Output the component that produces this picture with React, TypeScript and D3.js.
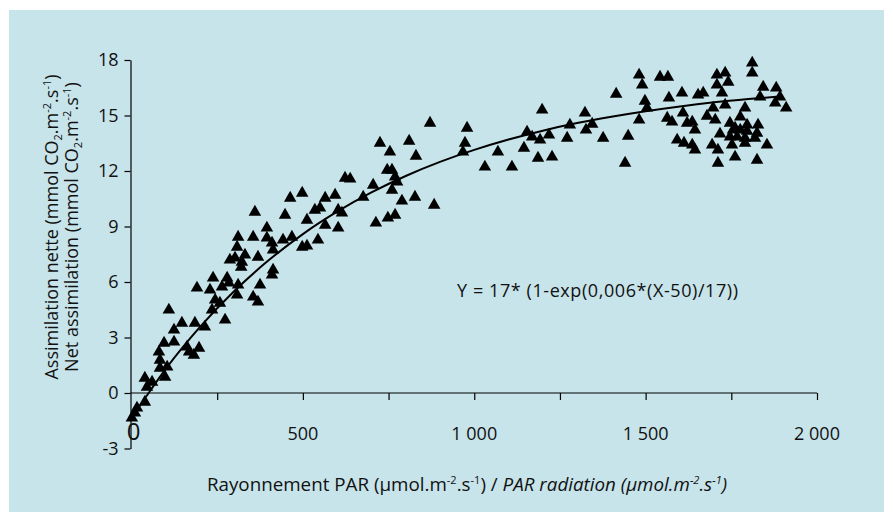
import React, { useEffect, useRef } from 'react';
import * as d3 from 'd3';

// PAR radiation (µmol.m-2.s-1) and net assimilation
const parValues = [
  10, 1, 16, 39, 39, 60, 45, 98, 104, 83, 83, 80, 95, 124, 124, 147, 109, 168, 182, 197,
  162, 185, 214, 191, 235, 229, 244, 273, 264, 284, 308, 311, 308, 302, 322, 331, 287, 279, 311, 355,
  360, 369, 375, 355, 369, 395, 395, 410, 413, 410, 413, 448, 442, 468, 463, 498, 512, 498, 512, 535,
  550, 565, 565, 544, 594, 603, 614, 603, 623, 638, 238, 258, 320, 725, 754, 810, 830, 746, 760, 769,
  775, 705, 760, 676, 789, 827, 883, 769, 748, 713, 871, 979, 973, 967, 1069, 1031, 1110, 1154, 1169, 1145,
  1192, 1186, 1218, 1227, 1198, 1279, 1271, 1323, 1326, 1344, 1376, 1414, 1449, 1440, 1481, 1481, 1490, 1498, 1504, 1542,
  1565, 1568, 1606, 1653, 1668, 1563, 1577, 1609, 1621, 1636, 1644, 1592, 1636, 1644, 1679, 1697, 1708, 1732, 1741, 1708,
  1723, 1732, 1703, 1717, 1694, 1711, 1711, 1761, 1746, 1755, 1767, 1752, 1776, 1790, 1796, 1790, 1811, 1811, 1843, 1834,
  1828, 1825, 1854, 1825, 1881, 1892, 1878, 1910, 1796, 1776, 1746, 1761, 1790, 1819, 1612,
];
const assimValues = [
  -1.08, -1.35, -0.81, -0.49, 0.81, 0.59, 0.32, 0.86, 1.41, 1.35, 1.78, 2.22, 2.7, 2.76, 3.41, 3.78, 4.49, 2.22, 2.05, 2.43,
  2.49, 3.78, 3.57, 5.68, 4.49, 5.57, 5.03, 3.95, 5.73, 5.95, 5.3, 8.43, 7.89, 7.3, 7.08, 7.46, 7.19, 6.22, 5.84, 8.43,
  9.78, 7.35, 5.84, 5.19, 4.92, 8.92, 8.38, 8.11, 7.73, 6.38, 6.65, 9.62, 8.27, 8.43, 10.54, 10.81, 9.35, 7.89, 7.95, 9.89,
  10.0, 10.54, 9.08, 8.27, 10.7, 9.89, 9.73, 8.92, 11.62, 11.57, 6.22, 4.86, 6.81, 13.51, 13.03, 13.62, 12.81, 12.05, 12.05, 11.68,
  11.41, 11.24, 10.97, 10.59, 10.38, 10.59, 10.16, 9.62, 9.46, 9.19, 14.59, 14.32, 13.51, 13.03, 13.03, 12.22, 12.22, 14.11, 13.84, 13.24,
  13.68, 12.7, 13.95, 12.76, 15.3, 14.49, 13.78, 15.14, 14.22, 14.54, 13.78, 16.16, 13.89, 12.43, 14.76, 17.19, 16.65, 15.78, 15.41, 17.08,
  17.08, 15.95, 16.22, 16.11, 16.22, 14.86, 14.65, 15.14, 14.59, 14.65, 14.22, 13.68, 13.41, 13.14, 14.97, 15.41, 17.19, 17.3, 16.81, 16.65,
  16.22, 15.57, 14.76, 14.0, 13.41, 13.14, 12.43, 12.76, 14.59, 14.22, 13.84, 13.41, 14.92, 15.41, 14.49, 13.51, 17.84, 17.3, 16.54, 16.0,
  14.49, 14.05, 13.41, 12.59, 16.49, 16.0, 15.68, 15.41, 14.16, 14.22, 13.84, 14.32, 13.78, 13.78, 13.51,
];

// fitted curve
const fitPar = [0, 50, 100, 200, 300, 400, 500, 600, 700, 800, 900, 1000, 1100, 1200, 1300, 1400, 1500, 1600, 1700, 1800, 1890];
const fitAssim = [-1.35, 0, 1.3, 3.57, 5.51, 7.17, 8.59, 9.8, 10.84, 11.73, 12.49, 13.14, 13.7, 14.18, 14.59, 14.93, 15.23, 15.49, 15.71, 15.89, 16.03];

const xTicks = [250, 500, 750, 1000, 1250, 1500, 1750, 2000];
const xLabelTicks = [500, 1000, 1500, 2000];
const yTicks = [-3, 0, 3, 6, 9, 12, 15, 18];

const W = 893;
const H = 522;
const FONT = '"Open Sans", "Noto Sans", sans-serif';
const FS = '18px';
const SUP = '11px';

const App = () => {
  const svgRef = useRef(null);

  useEffect(() => {
    const svg = d3.select(svgRef.current);
    svg.selectAll('*').remove();

    const x = d3.scaleLinear().domain([0, 2000]).range([131.5, 817]);
    const y = d3.scaleLinear().domain([-3, 18]).range([448.5, 60]);

    // panel
    svg.append('rect')
      .attr('x', 9).attr('y', 10)
      .attr('width', W - 18).attr('height', H - 20)
      .attr('fill', '#c7e4ea');

    // Y axis
    const yAxis = svg.append('g')
      .attr('transform', `translate(${x(0) - 1},0)`)
      .call(d3.axisLeft(y).tickValues(yTicks).tickSize(6).tickPadding(6).tickSizeOuter(0).tickFormat(d => String(d)));
    yAxis.select('.domain').attr('stroke', '#000').attr('stroke-width', 1.2);
    yAxis.selectAll('line').attr('stroke', '#000').attr('stroke-width', 1.2);
    yAxis.selectAll('text')
      .style('font-family', FONT).style('font-size', FS).attr('fill', '#111');

    // X axis at Y = 0
    const xAxis = svg.append('g')
      .attr('transform', `translate(0,${y(0)})`)
      .call(d3.axisBottom(x).tickValues(xTicks).tickSize(7).tickSizeOuter(0).tickFormat(() => ''));
    xAxis.select('.domain').attr('stroke', '#000').attr('stroke-width', 1.2)
      .attr('d', `M${x(0) - 1},0H${x(2000)}`);
    xAxis.selectAll('line').attr('stroke', '#000').attr('stroke-width', 1.2);

    const fmt = (v) => d3.format(',')(v).replace(/,/g, ' ');
    svg.append('g')
      .selectAll('text')
      .data(xLabelTicks)
      .join('text')
        .attr('x', d => x(d))
        .attr('y', 440)
        .attr('text-anchor', 'middle')
        .style('font-family', FONT).style('font-size', FS)
        .attr('fill', '#111')
        .text(d => fmt(d));

    // big origin zero
    svg.append('text')
      .attr('x', x(0) + 2).attr('y', 440)
      .attr('text-anchor', 'middle')
      .style('font-family', FONT).style('font-size', '24px')
      .attr('fill', '#111')
      .text('0');

    // points
    const pts = parValues.map((p, i) => [p, assimValues[i]]);
    const tri = d3.symbol().type(d3.symbolTriangle).size(68);
    svg.append('g')
      .selectAll('path')
      .data(pts)
      .join('path')
        .attr('transform', d => `translate(${x(d[0])},${y(d[1])})`)
        .attr('d', tri)
        .attr('fill', '#000');

    // fitted curve
    const line = d3.line().x(d => x(d[0])).y(d => y(d[1])).curve(d3.curveMonotoneX);
    svg.append('path')
      .datum(fitPar.map((p, i) => [p, fitAssim[i]]))
      .attr('d', line)
      .attr('fill', 'none')
      .attr('stroke', '#000')
      .attr('stroke-width', 2);

    // equation
    svg.append('text')
      .attr('x', 457).attr('y', 297)
      .attr('textLength', 281)
      .style('font-family', FONT).style('font-size', FS)
      .attr('fill', '#111')
      .text('Y = 17* (1-exp(0,006*(X-50)/17))');

    // x label
    const xl = svg.append('text')
      .attr('x', 467).attr('y', 491)
      .attr('text-anchor', 'middle')
      .style('font-family', FONT).style('font-size', '18.8px')
      .attr('fill', '#111');
    const unit = (sel, italic) => {
      const st = italic ? 'italic' : 'normal';
      sel.append('tspan').style('font-style', st).text('(µmol.m');
      sel.append('tspan').style('font-style', st).style('font-size', SUP).attr('dy', -7).text('-2');
      sel.append('tspan').style('font-style', st).attr('dy', 7).text('.s');
      sel.append('tspan').style('font-style', st).style('font-size', SUP).attr('dy', -7).text('-1');
      sel.append('tspan').style('font-style', st).attr('dy', 7).text(')');
    };
    xl.append('tspan').text('Rayonnement PAR ');
    unit(xl, false);
    xl.append('tspan').text(' / ');
    xl.append('tspan').style('font-style', 'italic').text('PAR radiation ');
    unit(xl, true);

    // y label, two lines
    const yLines = [['Assimilation nette ', 58], ['Net assimilation ', 78]];
    yLines.forEach(([lead, bx]) => {
      const t = svg.append('text')
        .attr('transform', `translate(${bx},227) rotate(-90)`)
        .attr('text-anchor', 'middle')
        .style('font-family', FONT).style('font-size', FS)
        .attr('fill', '#111');
      t.append('tspan').text(`${lead}(mmol CO`);
      t.append('tspan').style('font-size', SUP).attr('dy', 4).text('2');
      t.append('tspan').attr('dy', -4).text('.m');
      t.append('tspan').style('font-size', SUP).attr('dy', -7).text('-2');
      t.append('tspan').attr('dy', 7).text('.s');
      t.append('tspan').style('font-size', SUP).attr('dy', -7).text('-1');
      t.append('tspan').attr('dy', 7).text(')');
    });
  }, []);

  return (
    <svg
      ref={svgRef}
      width={W}
      height={H}
      style={{ position: 'absolute', left: 0, top: 0, display: 'block', background: '#fff' }}
    />
  );
};

export default App;
